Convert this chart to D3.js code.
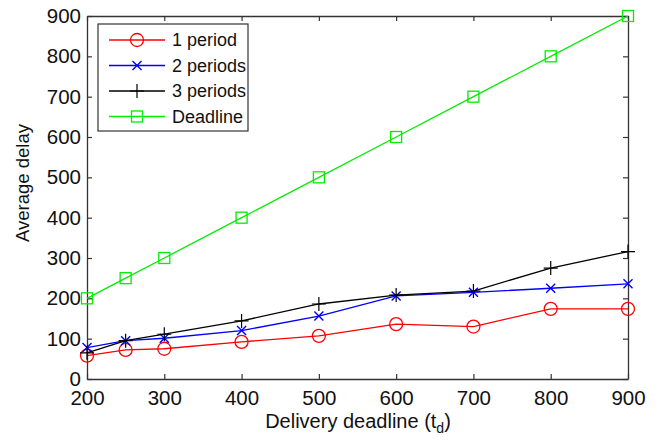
<!DOCTYPE html>
<html>
<head>
<meta charset="utf-8">
<script src="https://cdn.jsdelivr.net/npm/d3@7"></script>
<style>
  body { margin: 0; background: #fff; }
  text { font-family: "Liberation Sans", Arial, sans-serif; fill: #111; }
</style>
</head>
<body>
<svg id="chart" width="660" height="440"></svg>
<script>
// data
let xValues = [200, 250, 300, 400, 500, 600, 700, 800, 900]
let onePeriod = [58, 72, 75, 92, 107, 136, 130, 174, 174]
let twoPeriods = [78, 95, 101, 120, 156, 206, 215, 225, 236]
let threePeriods = [65, 95, 111, 144, 186, 208, 218, 275, 316]
let deadline = [200, 250, 300, 400, 500, 600, 700, 800, 900]
let xTicks = [200, 300, 400, 500, 600, 700, 800, 900]
let yTicks = [0, 100, 200, 300, 400, 500, 600, 700, 800, 900]

let width = 660
let height = 440
let margin = ({top: 16, right: 32, bottom: 61, left: 87})

let x = d3.scaleLinear().domain([200, 900]).range([margin.left, width - margin.right])
let y = d3.scaleLinear().domain([0, 900]).range([height - margin.bottom, margin.top])

let series = [
  {name: "1 period", values: onePeriod, color: "#ff0000", marker: "circle"},
  {name: "2 periods", values: twoPeriods, color: "#0000ff", marker: "x"},
  {name: "3 periods", values: threePeriods, color: "#000000", marker: "plus"},
  {name: "Deadline", values: deadline, color: "#00ee00", marker: "square"}
]

let svg = d3.select("#chart")

function drawMarker(g, type, cx, cy, color) {
  if (type == "circle") {
    g.append("circle").attr("cx", cx).attr("cy", cy).attr("r", 6.5)
      .attr("fill", "none").attr("stroke", color).attr("stroke-width", 1.3)
  } else if (type == "square") {
    g.append("rect").attr("x", cx - 5.5).attr("y", cy - 5.5).attr("width", 11).attr("height", 11)
      .attr("fill", "none").attr("stroke", color).attr("stroke-width", 1.3)
  } else if (type == "x") {
    let s = 4.5
    g.append("path").attr("d", `M${cx-s},${cy-s}L${cx+s},${cy+s}M${cx-s},${cy+s}L${cx+s},${cy-s}`)
      .attr("stroke", color).attr("stroke-width", 1.4)
  } else {
    let s = 7
    g.append("path").attr("d", `M${cx-s},${cy}L${cx+s},${cy}M${cx},${cy-s}L${cx},${cy+s}`)
      .attr("stroke", color).attr("stroke-width", 1.2)
  }
}

// axes, ticks pointing inward on all four sides
let axisColor = "#333"
let axBottom = svg.append("g").attr("transform", `translate(0,${height - margin.bottom})`)
  .call(d3.axisBottom(x).tickValues(xTicks).tickSizeInner(-5).tickSizeOuter(0).tickPadding(12))
svg.append("g").attr("transform", `translate(0,${margin.top})`)
  .call(d3.axisTop(x).tickValues(xTicks).tickSizeInner(-5).tickSizeOuter(0).tickFormat(""))
svg.append("g").attr("transform", `translate(${margin.left},0)`)
  .call(d3.axisLeft(y).tickValues(yTicks).tickSizeInner(-5).tickSizeOuter(0).tickPadding(6))
svg.append("g").attr("transform", `translate(${width - margin.right},0)`)
  .call(d3.axisRight(y).tickValues(yTicks).tickSizeInner(-5).tickSizeOuter(0).tickFormat(""))

svg.selectAll(".domain").attr("stroke", axisColor).attr("stroke-width", 1.3)
svg.selectAll(".tick line").attr("stroke", axisColor).attr("stroke-width", 1.2)
svg.selectAll(".tick text").style("font-size", "20.5px").attr("fill", "#111")
axBottom.selectAll(".tick text").attr("dy", "0.7em")

// lines and markers
let line = d3.line().x((d, i) => x(xValues[i])).y(d => y(d))
series.forEach(s => {
  svg.append("path").attr("d", line(s.values))
    .attr("fill", "none").attr("stroke", s.color).attr("stroke-width", 1.3)
  let g = svg.append("g")
  s.values.forEach((v, i) => drawMarker(g, s.marker, x(xValues[i]), y(v), s.color))
})

// axis titles
let xTitle = svg.append("text").attr("x", 358).attr("y", 428)
  .attr("text-anchor", "middle").style("font-size", "20px")
xTitle.append("tspan").text("Delivery deadline (t")
xTitle.append("tspan").attr("dy", 5).style("font-size", "14px").text("d")
xTitle.append("tspan").attr("dy", -5).text(")")

svg.append("text").attr("transform", "translate(29,183) rotate(-90)")
  .attr("text-anchor", "middle").style("font-size", "18.5px").text("Average delay")

// legend
let legend = svg.append("g")
legend.append("rect").attr("x", 98).attr("y", 24).attr("width", 150).attr("height", 107)
  .attr("fill", "#fff").attr("stroke", axisColor).attr("stroke-width", 1.2)
series.forEach((s, i) => {
  let ly = 40 + i * 25.5
  legend.append("line").attr("x1", 109).attr("x2", 165).attr("y1", ly).attr("y2", ly)
    .attr("stroke", s.color).attr("stroke-width", 1.3)
  drawMarker(legend, s.marker, 137, ly, s.color)
  legend.append("text").attr("x", 172).attr("y", ly).attr("dy", "0.35em")
    .style("font-size", "18px").text(s.name)
})
</script>
</body>
</html>
